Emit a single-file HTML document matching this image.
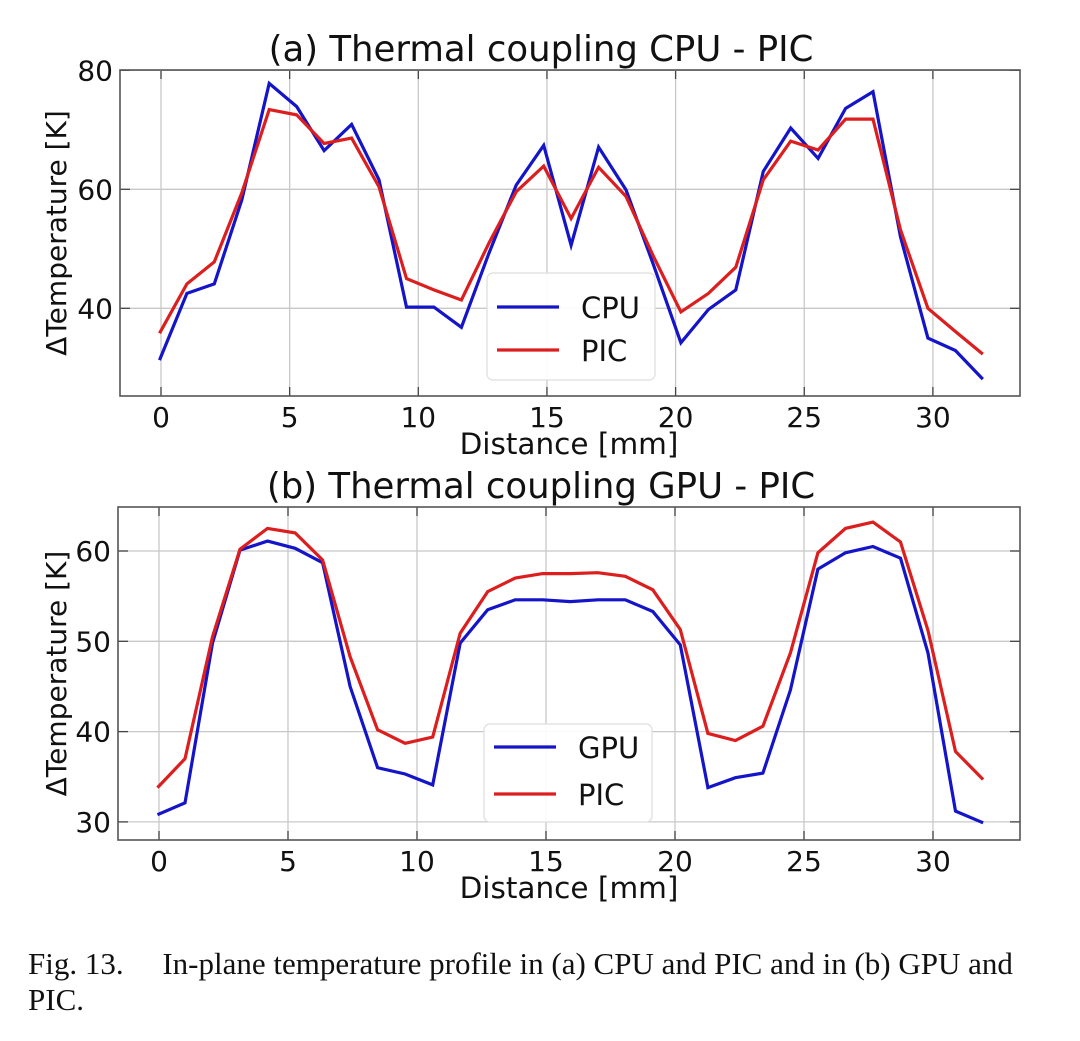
<!DOCTYPE html>
<html><head><meta charset="utf-8"><style>
html,body{margin:0;padding:0;background:#fff;}
body{width:1080px;height:1041px;overflow:hidden;position:relative;}
svg{position:absolute;left:0;top:0;}
.cap{position:absolute;left:28px;top:946px;width:1040px;font-family:"Liberation Serif",serif;font-size:31px;line-height:36px;color:#111;white-space:nowrap;}
</style></head><body>
<svg id="chart" width="1080" height="940" font-family="DejaVu Sans, Liberation Sans, sans-serif"></svg>
<div class="cap">Fig. 13.&nbsp;&nbsp;&nbsp;&nbsp; In-plane temperature profile in (a) CPU and PIC and in (b) GPU and<br>PIC.</div>
<script>
const xTicks=[0,5,10,15,20,25,30];
const yTicksA=[40,60,80];
const yTicksB=[30,40,50,60];
const cpuA=[31.3,42.5,44.1,58.2,77.8,73.9,66.5,70.9,61.6,40.2,40.2,36.8,49.2,60.7,67.4,50.6,67.1,59.9,47.3,34.2,39.8,43.1,63.0,70.3,65.2,73.6,76.4,52.0,35.0,32.9,28.1];
const picA=[35.8,44.1,47.8,59.4,73.4,72.5,67.7,68.6,60.4,45.0,43.1,41.4,50.9,59.6,63.9,55.1,63.7,58.8,48.7,39.4,42.5,46.9,61.6,68.1,66.6,71.8,71.8,53.2,40.0,36.1,32.3];
const gpuB=[30.8,32.1,49.8,60.1,61.1,60.3,58.7,45.0,36.0,35.3,34.1,49.8,53.5,54.6,54.6,54.4,54.6,54.6,53.3,49.6,33.8,34.9,35.4,44.6,58.0,59.8,60.5,59.2,48.7,31.2,29.9];
const picB=[33.8,37.0,50.5,60.2,62.5,62.0,59.0,48.3,40.2,38.7,39.4,50.9,55.5,57.0,57.5,57.5,57.6,57.2,55.7,51.3,39.8,39.0,40.6,48.7,59.8,62.5,63.2,61.0,51.2,37.8,34.7];
const NS='http://www.w3.org/2000/svg';
const svg=document.getElementById('chart');
function mk(t,a,p){const e=document.createElementNS(NS,t);for(const k in a)e.setAttribute(k,a[k]);(p||svg).appendChild(e);return e;}
function panel(cfg){
  const g=mk('g',{});
  
  
  const X=v=>cfg.x0+(v)*cfg.kx, Y=v=>cfg.y0-(v-cfg.yref)*cfg.ky;
  xTicks.forEach(t=>{const l=mk('line',{x1:X(t),x2:X(t),y1:cfg.top,y2:cfg.bot,stroke:'#c8c8c8','stroke-width':1.3},g);
    
    mk('line',{x1:X(t),x2:X(t),y1:cfg.bot,y2:cfg.bot-9,stroke:'#444','stroke-width':1.3},g);
    mk('line',{x1:X(t),x2:X(t),y1:cfg.top,y2:cfg.top+9,stroke:'#444','stroke-width':1.3},g);
    const tx=mk('text',{x:X(t),y:cfg.bot+31,'font-size':28,'text-anchor':'middle',fill:'#111'},g);tx.textContent=t;
    });
  cfg.yt.forEach(t=>{const l=mk('line',{x1:cfg.left,x2:cfg.right,y1:Y(t),y2:Y(t),stroke:'#c8c8c8','stroke-width':1.3},g);
    
    mk('line',{x1:cfg.left,x2:cfg.left+10,y1:Y(t),y2:Y(t),stroke:'#444','stroke-width':1.3},g);
    mk('line',{x1:cfg.right,x2:cfg.right-10,y1:Y(t),y2:Y(t),stroke:'#444','stroke-width':1.3},g);
    const tx=mk('text',{x:cfg.left-7,y:Y(t)+10,'font-size':28,'text-anchor':'end',fill:'#111'},g);tx.textContent=t;
    });
  const fr=mk('rect',{x:cfg.left,y:cfg.top,width:cfg.right-cfg.left,height:cfg.bot-cfg.top,fill:'none',stroke:'#555','stroke-width':1.6},g);
  
  cfg.series.forEach(s=>{
    const pts=s.v.map((v,i)=>X(i*32/30-0.06).toFixed(1)+','+Y(v).toFixed(1)).join(' ');
    const pl=mk('polyline',{points:pts,fill:'none',stroke:s.c,'stroke-width':3.2,'stroke-linejoin':'miter'},g);
    });
  const lg=mk('g',{},g);
  mk('rect',{x:cfg.lg[0],y:cfg.lg[1],width:168,height:cfg.lg[2],rx:6,fill:'#fff','fill-opacity':0.9,stroke:'#ddd','stroke-width':1.2},lg);
  cfg.series.forEach((s,i)=>{const yy=cfg.lg[1]+cfg.lg[3]+i*cfg.lg[4];
    mk('line',{x1:cfg.lg[0]+10,x2:cfg.lg[0]+72,y1:yy,y2:yy,stroke:s.c,'stroke-width':3.2},lg);
    const t=mk('text',{x:cfg.lg[0]+94,y:yy+11,'font-size':29,fill:'#111'},lg);t.textContent=s.label;
    });
  const tt=mk('text',{x:541,y:cfg.top-9,'font-size':35.5,'text-anchor':'middle',fill:'#111'},g);tt.textContent=cfg.title;
  
  const xl=mk('text',{x:569,y:cfg.bot+58,'font-size':29.5,'text-anchor':'middle',fill:'#111'},g);xl.textContent='Distance [mm]';
  
  const cy=(cfg.top+cfg.bot)/2;
  const yl=mk('text',{x:0,y:0,'font-size':28,'text-anchor':'middle',fill:'#111',transform:`translate(66,${cy}) rotate(-90)`},g);yl.textContent='ΔTemperature [K]';
  
}
panel({name:'panel-a-cpu-pic',x0:161,kx:25.73,y0:70.3,yref:80,ky:5.95,left:120,right:1020,top:70,bot:396,yt:yTicksA,
  title:'(a) Thermal coupling CPU - PIC',lg:[487,273,107,34,43],
  series:[{v:cpuA,c:'#1414c8',n:'cpu-line',label:'CPU'},{v:picA,c:'#dc1e1e',n:'pic-line-a',label:'PIC'}]});
panel({name:'panel-b-gpu-pic',x0:159,kx:25.8,y0:551,yref:60,ky:9.03,left:118,right:1020,top:507,bot:840,yt:yTicksB,
  title:'(b) Thermal coupling GPU - PIC',lg:[484,724,98,23,47],
  series:[{v:gpuB,c:'#1414c8',n:'gpu-line',label:'GPU'},{v:picB,c:'#dc1e1e',n:'pic-line-b',label:'PIC'}]});
</script>
</body></html>
